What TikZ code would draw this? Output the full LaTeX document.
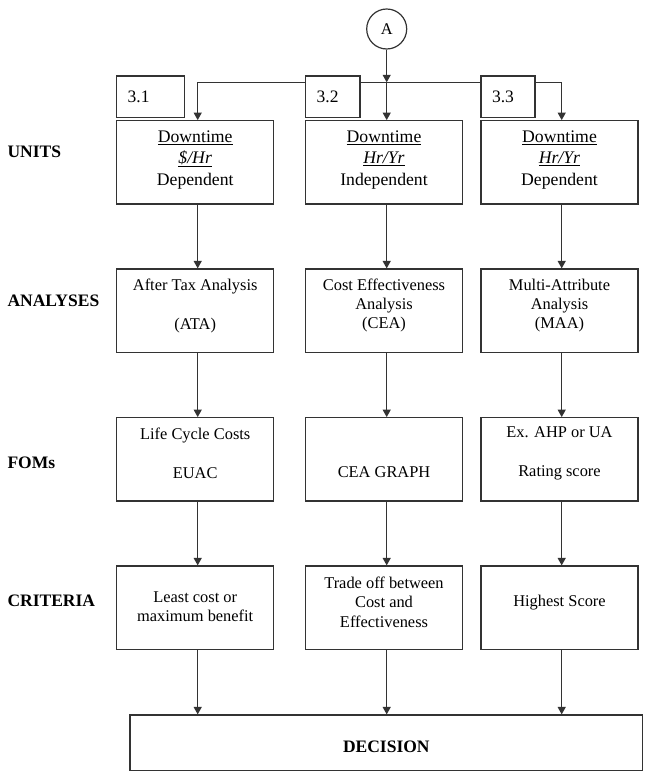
\documentclass[tikz,border=0pt]{standalone}
\usepackage{fontspec}
\setmainfont{Liberation Serif}
\usetikzlibrary{arrows.meta}
\definecolor{linec}{gray}{0.2}
\begin{document}
\begin{tikzpicture}[x=1pt,y=-1pt,
  box/.style={draw=linec, line width=1.2pt, fill=white, minimum width=157, minimum height=83.3, inner sep=0},
  numbox/.style={draw=linec, line width=1.2pt, fill=white, minimum height=41.3, inner xsep=11, inner ysep=0, align=left, font=\fontsize{17.5}{21}\selectfont},
  txt/.style={font=\fontsize{16.4}{19.2}\selectfont, align=center, inner sep=0},
  utxt/.style={font=\fontsize{17.7}{21.5}\selectfont, align=center, inner sep=0},
  lab/.style={font=\fontsize{17.5}{21}\selectfont\bfseries, anchor=west, inner sep=0},
  arr/.style={draw=linec, line width=1.2pt, -{Triangle[length=7.5pt,width=8pt]}}]
\useasboundingbox (0,0) rectangle (646,776);

% row labels
\node[lab] (lu) at (7.3,151.7) {UNITS};
\node[lab] (la) at (7.3,300.7) {ANALYSES};
\node[lab] (lf) at (7.3,462.7) {FOMs};
\node[lab] (lc) at (7.3,600.7) {CRITERIA};

% column coordinates
\coordinate (k1) at (197.7,82.3);
\coordinate (j) at (386.7,82.3);
\coordinate (k3) at (561.7,82.3);

% top circle
\node[circle, draw=linec, line width=1.2pt, minimum size=40, inner sep=0, font=\fontsize{16.4}{19}\selectfont] (A) at (386.7,29) {A};

% units row
\node[box] (u1) at (195.2,162.35) {};
\node[box] (u2) at (384,162.35) {};
\node[box] (u3) at (559.5,162.35) {};
\node[utxt] (tu1) at (195.2,159.7) {\underline{Downtime}\\\underline{\textit{\$/Hr}}\\Dependent};
\node[utxt] (tu2) at (384,159.7) {\underline{Downtime}\\\underline{\textit{Hr/Yr}}\\Independent};
\node[utxt] (tu3) at (559.5,159.7) {\underline{Downtime}\\\underline{\textit{Hr/Yr}}\\Dependent};

% analyses row
\node[box] (a1) at (195.2,310.65) {};
\node[box] (a2) at (384,310.65) {};
\node[box] (a3) at (559.5,310.65) {};
\node[txt] (ta1) at (195.2,306) {After Tax Analysis\\[20.5pt](ATA)};
\node[txt] (ta2) at (384,305.3) {Cost Effectiveness\\Analysis\\(CEA)};
\node[txt] (ta3) at (559.5,305.3) {Multi-Attribute\\Analysis\\(MAA)};

% FOMs row
\node[box] (f1) at (195.2,459.35) {};
\node[box] (f2) at (384,459.35) {};
\node[box] (f3) at (559.5,459.35) {};
\node[txt] (tf1) at (195.2,453.5) {Life Cycle Costs\\[19.2pt]EUAC};
\node[txt] (tf2) at (384,471.7) {CEA GRAPH};
\node[txt] (tf3) at (559.5,453.5) {Ex. AHP or UA\\[19.2pt]Rating score};

% criteria row
\node[box] (c1) at (195.2,607.65) {};
\node[box] (c2) at (384,607.65) {};
\node[box] (c3) at (559.5,607.65) {};
\node[txt] (tc1) at (195.2,606.8) {Least cost or\\maximum benefit};
\node[txt] (tc2) at (384,602.2) {Trade off between\\Cost and\\Effectiveness};
\node[txt] (tc3) at (559.5,602.7) {Highest Score};

% decision
\node[box, minimum width=512.7, minimum height=55.7] (d) at (386.35,742.85) {};
\node[lab, anchor=center] (td) at (386.3,746.7) {DECISION};

% top connectors
\draw[arr] (A) -- (j);
\draw[arr] (j) -- (u2.north -| j);
\draw[arr] (j) -| (u1.north -| k1);
\draw[arr] (j) -| (u3.north -| k3);

% vertical connectors
\draw[arr] (u1.south -| k1) -- (a1.north -| k1);
\draw[arr] (u2.south -| j) -- (a2.north -| j);
\draw[arr] (u3.south -| k3) -- (a3.north -| k3);
\draw[arr] (a1.south -| k1) -- (f1.north -| k1);
\draw[arr] (a2.south -| j) -- (f2.north -| j);
\draw[arr] (a3.south -| k3) -- (f3.north -| k3);
\draw[arr] (f1.south -| k1) -- (c1.north -| k1);
\draw[arr] (f2.south -| j) -- (c2.north -| j);
\draw[arr] (f3.south -| k3) -- (c3.north -| k3);
\draw[arr] (c1.south -| k1) -- (d.north -| k1);
\draw[arr] (c2.south -| j) -- (d.north -| j);
\draw[arr] (c3.south -| k3) -- (d.north -| k3);

% number boxes (over the horizontal line)
\node[numbox, text width=45.6] (n1) at (150.5,96.65) {3.1};
\node[numbox, text width=32.3] (n2) at (332.85,96.65) {3.2};
\node[numbox, text width=32] (n3) at (508,96.65) {3.3};
\end{tikzpicture}
\end{document}
